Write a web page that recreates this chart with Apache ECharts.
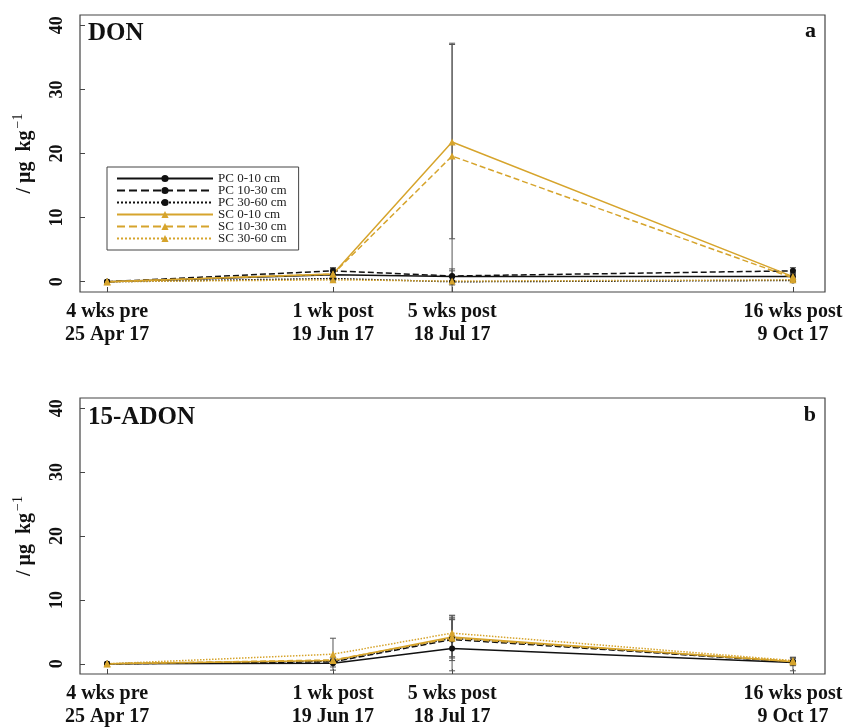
<!DOCTYPE html>
<html>
<head>
<meta charset="utf-8">
<script src="https://cdn.jsdelivr.net/npm/echarts@6/dist/echarts.min.js"></script>
<style>html,body{margin:0;padding:0;background:#fff}#c{width:848px;height:728px}</style>
</head>
<body>
<div id="c"></div>
<script>
// ---- data ----
const tickDays = [0, 55, 84, 167];
const tickLabels = ['4 wks pre\n25 Apr 17', '1 wk post\n19 Jun 17', '5 wks post\n18 Jul 17', '16 wks post\n9 Oct 17'];
const yTicks = [0, 10, 20, 30, 40];
const seriesNames = ['PC 0-10 cm', 'PC 10-30 cm', 'PC 30-60 cm', 'SC 0-10 cm', 'SC 10-30 cm', 'SC 30-60 cm'];

// DON (panel a)
const donPC010 = [0, 1.1, 0.8, 0.8];
const donPC1030 = [0, 1.7, 0.9, 1.7];
const donPC3060 = [0, 0.5, 0.0, 0.2];
const donSC010 = [0, 1.2, 21.8, 0.8];
const donSC1030 = [0, 1.2, 19.6, 0.6];
const donSC3060 = [0, 0.3, 0.1, 0.3];
// error bars [low, high] per time point
const donPC010Err = [[0, 0], [0.1, 2.1], [-0.5, 2.0], [0.3, 1.3]];
const donPC1030Err = [[0, 0], [1.2, 2.2], [0.2, 1.7], [1.2, 2.2]];
const donSC010Err = [[0, 0], [0.6, 1.8], [6.7, 37.0], [0.2, 1.4]];
const donSC1030Err = [[0, 0], [0.7, 1.7], [-2.0, 37.2], [0.0, 1.2]];

// 15-ADON (panel b)
const adonPC010 = [0, 0.1, 2.4, 0.2];
const adonPC1030 = [0, 0.3, 3.8, 0.3];
const adonPC3060 = [0, 0.4, 4.0, 0.3];
const adonSC010 = [0, 0.5, 4.2, 0.3];
const adonSC1030 = [0, 0.6, 4.0, 0.4];
const adonSC3060 = [0, 1.5, 4.8, 0.5];
const adonPC010Err = [[0, 0], [-0.5, 0.7], [-1.1, 7.0], [-1.1, 1.0]];
const adonPC1030Err = [[0, 0], [0, 0.6], [0.9, 6.9], [-0.3, 0.9]];
const adonSC010Err = [[0, 0], [0.1, 0.9], [1.1, 7.5], [-0.2, 0.8]];
const adonSC1030Err = [[0, 0], [0.2, 1.0], [0.5, 7.6], [-0.2, 1.0]];
const adonSC3060Err = [[0, 0], [-1.0, 4.0], [2.4, 7.2], [0.0, 1.0]];

// ---- styling ----
const FONT = 'Liberation Serif';
const BLACK = '#111111';
const GOLD = '#D6A42C';
const styles = [
  {color: BLACK, type: 'solid', symbol: 'circle'},
  {color: BLACK, type: 'dashed', symbol: 'circle'},
  {color: BLACK, type: 'dotted', symbol: 'circle'},
  {color: GOLD, type: 'solid', symbol: 'triangle'},
  {color: GOLD, type: 'dashed', symbol: 'triangle'},
  {color: GOLD, type: 'dotted', symbol: 'triangle'}
];

function lineSeries(name, vals, idx, gi) {
  const s = styles[idx];
  return {
    name: name, type: 'line', xAxisIndex: gi, yAxisIndex: gi,
    data: vals.map((v, i) => [tickDays[i], v]),
    symbol: s.symbol, symbolSize: s.symbol === 'circle' ? 6 : 7,
    showSymbol: true,
    lineStyle: {color: s.color, width: 1.5, type: s.type},
    itemStyle: {color: s.color},
    z: 3, animation: false, silent: true
  };
}

function errSeries(errs, gi) {
  return {
    type: 'custom', xAxisIndex: gi, yAxisIndex: gi, clip: true, z: 2,
    data: errs.map((e, i) => [tickDays[i], e[0], e[1]]).filter(d => d[1] !== d[2]),
    renderItem: function (params, api) {
      const lo = api.coord([api.value(0), api.value(1)]);
      const hi = api.coord([api.value(0), api.value(2)]);
      const w = 3;
      const st = {stroke: '#555', lineWidth: 1};
      return {type: 'group', children: [
        {type: 'line', shape: {x1: lo[0], y1: lo[1], x2: hi[0], y2: hi[1]}, style: st},
        {type: 'line', shape: {x1: lo[0] - w, y1: lo[1], x2: lo[0] + w, y2: lo[1]}, style: st},
        {type: 'line', shape: {x1: hi[0] - w, y1: hi[1], x2: hi[0] + w, y2: hi[1]}, style: st}
      ]};
    },
    animation: false, silent: true
  };
}

function xAxis(gi) {
  return {
    type: 'value', gridIndex: gi, min: -6.6, max: 174.8,
    axisLine: {show: false, onZero: false},
    splitLine: {show: false},
    axisTick: {customValues: tickDays, inside: true, length: 5, lineStyle: {color: '#444'}},
    axisLabel: {
      customValues: tickDays,
      formatter: v => tickLabels[tickDays.indexOf(v)] || '',
      fontFamily: FONT, fontWeight: 'bold', fontSize: 20, color: '#111', lineHeight: 23, margin: 8
    }
  };
}

function yAxis(gi) {
  return {
    type: 'value', gridIndex: gi, min: -1.6, max: 41.6,
    axisLine: {show: false, onZero: false},
    splitLine: {show: false},
    axisTick: {customValues: yTicks, inside: true, length: 5, lineStyle: {color: '#444'}},
    axisLabel: {customValues: yTicks, rotate: 90, fontFamily: FONT, fontWeight: 'bold', fontSize: 18, color: '#111', margin: 14},
    name: '{a|/ μg  kg}{b|−1}', nameLocation: 'middle', nameRotate: 90, nameGap: 41,
    nameTextStyle: {
      rich: {
        a: {fontFamily: FONT, fontWeight: 'bold', fontSize: 20, color: '#111'},
        b: {fontFamily: FONT, fontSize: 14, color: '#111', padding: [0, 0, 14, 2]}
      }
    }
  };
}

const series = [];
const donSets = [donPC010, donPC1030, donPC3060, donSC010, donSC1030, donSC3060];
const adonSets = [adonPC010, adonPC1030, adonPC3060, adonSC010, adonSC1030, adonSC3060];
[donPC010Err, donPC1030Err, donSC010Err, donSC1030Err].forEach(e => series.push(errSeries(e, 0)));
[adonPC010Err, adonPC1030Err, adonSC010Err, adonSC1030Err, adonSC3060Err].forEach(e => series.push(errSeries(e, 1)));
donSets.forEach((d, i) => series.push(lineSeries(seriesNames[i], d, i, 0)));
adonSets.forEach((d, i) => series.push(lineSeries(seriesNames[i], d, i, 1)));

const chart = echarts.init(document.getElementById('c'), null, {renderer: 'canvas'});
chart.setOption({
  backgroundColor: '#fff',
  animation: false,
  grid: [
    {left: 80, right: 23, top: 15, height: 277, show: true, borderColor: '#444', borderWidth: 1.2, backgroundColor: 'transparent'},
    {left: 80, right: 23, top: 398, height: 277, show: true, borderColor: '#444', borderWidth: 1.2, backgroundColor: 'transparent'}
  ],
  title: [
    {text: 'DON', left: 88, top: 21, padding: 0, textStyle: {fontFamily: FONT, fontWeight: 'bold', fontSize: 25, color: '#111'}},
    {text: 'a', right: 32, top: 20, padding: 0, textStyle: {fontFamily: FONT, fontWeight: 'bold', fontSize: 22, color: '#111'}},
    {text: '15-ADON', left: 88, top: 405, padding: 0, textStyle: {fontFamily: FONT, fontWeight: 'bold', fontSize: 25, color: '#111'}},
    {text: 'b', right: 32, top: 404, padding: 0, textStyle: {fontFamily: FONT, fontWeight: 'bold', fontSize: 22, color: '#111'}}
  ],
  legend: {
    data: seriesNames, orient: 'vertical', left: 107, top: 167,
    itemWidth: 96, itemHeight: 9, itemGap: -1,
    padding: [5, 12, 5, 9],
    borderColor: '#444', borderWidth: 1, backgroundColor: '#fff',
    textStyle: {fontFamily: FONT, fontSize: 13, color: '#222', lineHeight: 12},
    selectedMode: false
  },
  xAxis: [xAxis(0), xAxis(1)],
  yAxis: [yAxis(0), yAxis(1)],
  series: series
});
</script>
</body>
</html>
